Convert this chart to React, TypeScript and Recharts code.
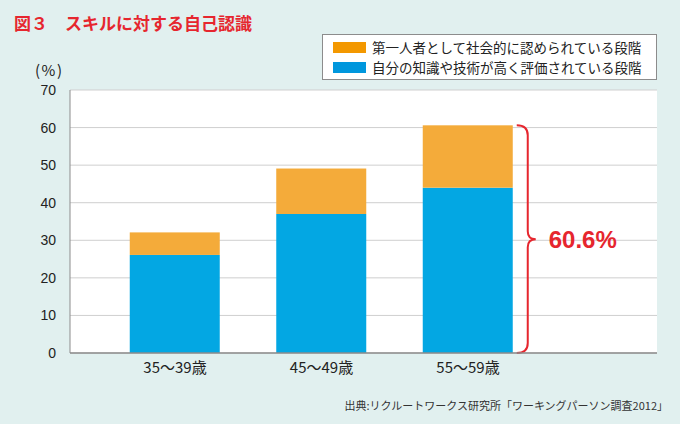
import { BarChart, Bar, XAxis, YAxis, CartesianGrid } from 'recharts'

const categories = ['35〜39歳', '45〜49歳', '55〜59歳']
// 自分の知識や技術が高く評価されている段階
const evaluated = [26.1, 37.0, 44.0]
// 第一人者として社会的に認められている段階
const recognized = [6.0, 12.1, 16.6]
const seriesNames = ['第一人者として社会的に認められている段階', '自分の知識や技術が高く評価されている段階']
const legendColors = ['#f39800', '#0097dd']
const yTicks = [0, 10, 20, 30, 40, 50, 60, 70]

const title = '図３　スキルに対する自己認識'
const unitLabel = '(%)'
const sourceText = '出典:リクルートワークス研究所「ワーキングパーソン調査2012」'
const highlightIndex = 2

const BLUE = '#03a7e3'
const ORANGE = '#f4ab3a'
const RED = '#e6262e'
const AXIS = '#8c8c8c'
const JP = '"Noto Sans CJK JP", "Noto Sans", sans-serif'
const NUM = '"Liberation Sans", Arial, sans-serif'

const data = categories.map((name, i) => ({
  name,
  evaluated: evaluated[i],
  recognized: recognized[i],
}))

// top segment, plus the brace + total for the highlighted bar
const TopBar = (props: any) => {
  const { x, y, width, height, index, fill } = props
  if (index !== highlightIndex) {
    return <rect x={x} y={y} width={width} height={height} fill={fill} />
  }
  const ppu = height / recognized[index]
  const y1 = y
  const y2 = y + height + evaluated[index] * ppu
  const ym = (y1 + y2) / 2
  const x0 = x + width + 4
  const xv = x0 + 11
  const xt = x0 + 19
  const total = (evaluated[index] + recognized[index]).toFixed(1) + '%'
  const d = `M ${x0} ${y1} Q ${xv} ${y1} ${xv} ${y1 + 10} L ${xv} ${ym - 8} Q ${xv} ${ym} ${xt} ${ym} Q ${xv} ${ym} ${xv} ${ym + 8} L ${xv} ${y2 - 10} Q ${xv} ${y2} ${x0} ${y2}`
  return (
    <g>
      <rect x={x} y={y} width={width} height={height} fill={fill} />
      <path d={d} fill="none" stroke={RED} strokeWidth={2} />
      <text x={xt + 13} y={ym} dy="0.36em" fill={RED} fontSize={24} fontWeight="bold" fontFamily={NUM}>
        {total}
      </text>
    </g>
  )
}

export default function App() {
  return (
    <div style={{ position: 'absolute', left: 0, top: 0, width: 680, height: 424, background: '#e1f0ef', overflow: 'hidden' }}>
      <div style={{ position: 'absolute', left: 14, top: 11, fontFamily: JP, fontSize: 17, fontWeight: 'bold', color: RED, lineHeight: '24px', whiteSpace: 'nowrap' }}>
        {title}
      </div>

      <BarChart width={680} height={424} data={data} margin={{ top: 90, right: 23, bottom: 41, left: 0 }}>
        <CartesianGrid vertical={false} stroke="#cfcfcf" fill="#ffffff" />
        <XAxis
          dataKey="name"
          height={30}
          padding={{ left: 31.75, right: 115.75 }}
          axisLine={{ stroke: AXIS, strokeWidth: 1.5 }}
          tickLine={false}
          tickMargin={3}
          tick={{ fill: '#222', fontSize: 15, fontFamily: JP }}
        />
        <XAxis xAxisId="top" dataKey="name" orientation="top" height={0} tick={false} tickLine={false} axisLine={{ stroke: AXIS }} />
        <YAxis
          width={70}
          domain={[0, 70]}
          ticks={yTicks}
          axisLine={{ stroke: AXIS }}
          tickLine={false}
          tickMargin={8}
          tick={{ fill: '#222', fontSize: 14, fontFamily: NUM }}
        />
        <YAxis yAxisId="right" orientation="right" width={0} domain={[0, 70]} tick={false} tickLine={false} axisLine={{ stroke: AXIS }} />
        <Bar dataKey="evaluated" stackId="a" fill={BLUE} barSize={90} isAnimationActive={false} />
        <Bar dataKey="recognized" stackId="a" fill={ORANGE} barSize={90} shape={TopBar} isAnimationActive={false} />
      </BarChart>

      <div style={{ position: 'absolute', left: 35, top: 60, fontFamily: JP, fontSize: 15, letterSpacing: 1.5, color: '#222', lineHeight: '20px' }}>
        {unitLabel}
      </div>

      <div style={{ position: 'absolute', left: 322, top: 34, width: 335, height: 46, boxSizing: 'border-box', border: `1px solid ${AXIS}`, background: '#fff', paddingTop: 2 }}>
        {seriesNames.map((name, i) => (
          <div key={name} style={{ display: 'flex', alignItems: 'center', height: 20 }}>
            <div style={{ width: 33, height: 11, marginLeft: 10, background: legendColors[i] }} />
            <span style={{ marginLeft: 6, fontFamily: JP, fontSize: 13.5, color: '#222', whiteSpace: 'nowrap' }}>{name}</span>
          </div>
        ))}
      </div>

      <div style={{ position: 'absolute', right: 12, top: 397, fontFamily: JP, fontSize: 11, color: '#333', lineHeight: '16px', whiteSpace: 'nowrap' }}>
        {sourceText}
      </div>
    </div>
  )
}
